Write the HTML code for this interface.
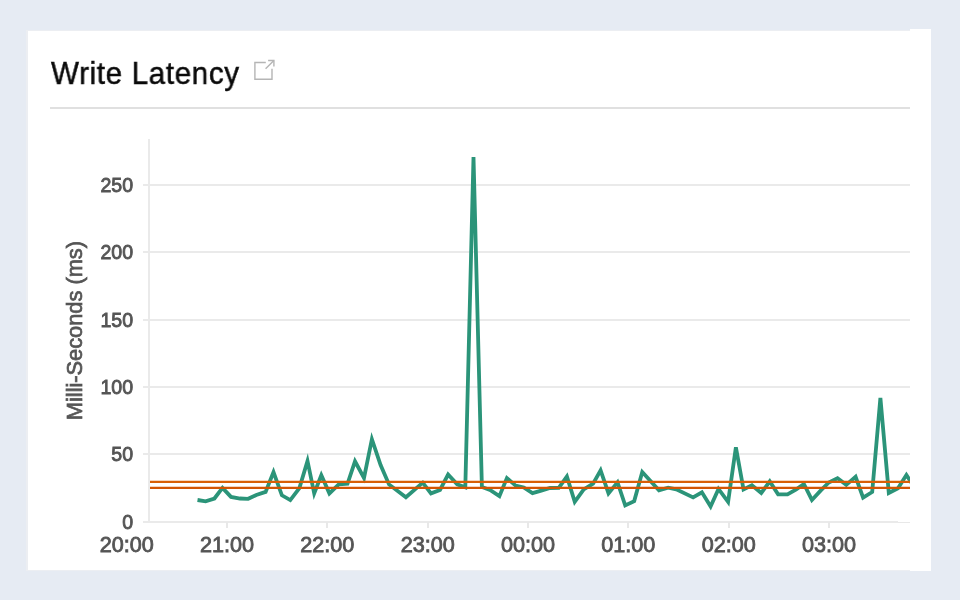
<!DOCTYPE html>
<html>
<head>
<meta charset="utf-8">
<title>Write Latency</title>
<style>
html,body{margin:0;padding:0;}
body{width:960px;height:600px;overflow:hidden;background:#e6ebf3;font-family:"Liberation Sans",sans-serif;position:relative;}
.edge{position:absolute;left:26px;top:30px;width:884px;height:541px;background:#eceef2;}
.panel{position:absolute;left:28px;top:31px;width:882px;height:539px;background:#fff;}
.strip{position:absolute;left:910px;top:29px;width:21px;height:542px;background:#fff;}
.title{will-change:transform;position:absolute;left:51px;top:52.7px;font-size:31.8px;line-height:40px;color:#0a0a0a;white-space:nowrap;letter-spacing:0.7px;transform:scale(0.93,1);transform-origin:0 0;-webkit-text-stroke:0.5px #0a0a0a;}
.divider{position:absolute;left:50px;top:107px;width:860px;height:2px;background:#e0e0e0;}
svg{position:absolute;left:0;top:0;will-change:transform;}
svg text{font-family:"Liberation Sans",sans-serif;fill:#555;}
</style>
</head>
<body>
<div class="edge"></div>
<div class="panel"></div>
<div class="strip"></div>
<div class="title">Write Latency</div>
<div class="divider"></div>
<svg width="960" height="600" viewBox="0 0 960 600">
  <defs><clipPath id="plot"><rect x="149" y="130" width="761" height="400"/></clipPath></defs>
  <!-- external link icon -->
  <g fill="none" stroke="#b5b5b5" stroke-width="1.4">
    <path d="M265.8 62.5H254.9V79.2H272V68.8"/>
    <path d="M265.6 68.8L273.9 60.5"/>
    <path d="M268.1 60.5H273.9V66.4"/>
  </g>
  <!-- gridlines -->
  <g stroke="#eaeaea" stroke-width="2">
    <line x1="143" x2="910" y1="185" y2="185"/>
    <line x1="143" x2="910" y1="252" y2="252"/>
    <line x1="143" x2="910" y1="320" y2="320"/>
    <line x1="143" x2="910" y1="387" y2="387"/>
    <line x1="143" x2="910" y1="454" y2="454"/>
    <line x1="149" x2="149" y1="139" y2="523"/>
    <line x1="143" x2="898" y1="522" y2="522"/>
  </g>
  <line x1="898" x2="910" y1="522.5" y2="522.5" stroke="#e8e8e8" stroke-width="1"/>
  <g stroke="#e8e8e8" stroke-width="2">
    <line x1="227" x2="227" y1="522" y2="528"/>
    <line x1="327" x2="327" y1="522" y2="528"/>
    <line x1="428" x2="428" y1="522" y2="528"/>
    <line x1="528" x2="528" y1="522" y2="528"/>
    <line x1="628" x2="628" y1="522" y2="528"/>
    <line x1="729" x2="729" y1="522" y2="528"/>
    <line x1="829" x2="829" y1="522" y2="528"/>
  </g>
  <!-- y labels -->
  <g font-size="20.3" text-anchor="end" stroke="#555" stroke-width="0.85">
    <text transform="translate(133.1 192.2) scale(0.965 1.03)">250</text>
    <text transform="translate(133.1 259.2) scale(0.965 1.03)">200</text>
    <text transform="translate(133.1 327.2) scale(0.965 1.03)">150</text>
    <text transform="translate(133.1 394.2) scale(0.965 1.03)">100</text>
    <text transform="translate(133.1 461.2) scale(0.965 1.03)">50</text>
    <text transform="translate(133.1 529.2) scale(0.965 1.03)">0</text>
  </g>
  <!-- x labels -->
  <g font-size="22.2" text-anchor="middle" stroke="#555" stroke-width="0.85">
    <text transform="translate(126.7 552.35) scale(0.975 1)">20:00</text>
    <text transform="translate(227 552.35) scale(0.975 1)">21:00</text>
    <text transform="translate(327.3 552.35) scale(0.975 1)">22:00</text>
    <text transform="translate(427.7 552.35) scale(0.975 1)">23:00</text>
    <text transform="translate(528 552.35) scale(0.975 1)">00:00</text>
    <text transform="translate(628.3 552.35) scale(0.975 1)">01:00</text>
    <text transform="translate(728.7 552.35) scale(0.975 1)">02:00</text>
    <text transform="translate(829 552.35) scale(0.975 1)">03:00</text>
  </g>
  <text font-size="21.8" text-anchor="middle" stroke="#555" stroke-width="0.7" transform="translate(82.2 330.6) rotate(-90) scale(1 1.04)">Milli-Seconds (ms)</text>
  <!-- series -->
  <polyline clip-path="url(#plot)" fill="none" stroke="#2b9479" stroke-width="3.8" stroke-linejoin="miter" stroke-miterlimit="5" points="
197.5,500 205.6,501.3 214.4,498.5 222.5,487.87 231,496.9 240,498.5 248.1,498.8 256.3,495 265.6,491.9 273.5,472.01 281.9,495.3 290.3,500.09 299.4,488.1 307.5,460.98 314.2,493.4 321.3,475.2 329.4,493.39 338.8,484.4 347.5,483.8 355,461.29 364,477.97 371.9,439.18 380.6,465 389,484.4 405.9,497.19 422.75,482.63 431,493.37 440,490 448.1,474.57 457.2,484.4 465.3,487.3 473.5,157 481.9,486.9 490,490 499.4,496.11 506.9,478.11 515.6,485.6 523.75,487.5 532.5,493.19 541.25,490.6 550,488 558.75,487.9 566.9,476.53 574.75,501.76 583.75,489.4 593.1,483.75 600.6,470.34 608.5,493.36 617.5,482.27 625.2,505.45 634.2,501.1 642.25,471.96 659,490.3 668.1,487.75 676.25,489.4 693.1,497.4 701.9,492.28 710.6,506.46 718.5,488.97 728.1,501.82 735.9,447.25 743.5,489.4 751.9,485.25 761.25,493 769.75,481.46 778.1,494.4 787.5,494.4 796.25,489.4 803.9,484 811.9,499.94 820.6,490.6 828.75,482.5 837.5,478.25 846.25,484.85 855.6,476.79 863.1,497.63 872.2,492 880.4,398 888.8,493 898,488.3 906.4,475.02 914.8,488
"/>
  <!-- thresholds -->
  <line x1="150" x2="910" y1="481.95" y2="481.95" stroke="#d95f06" stroke-width="2.2"/>
  <line x1="150" x2="910" y1="487.9" y2="487.9" stroke="#d35503" stroke-width="2.2"/>
</svg>
</body>
</html>
